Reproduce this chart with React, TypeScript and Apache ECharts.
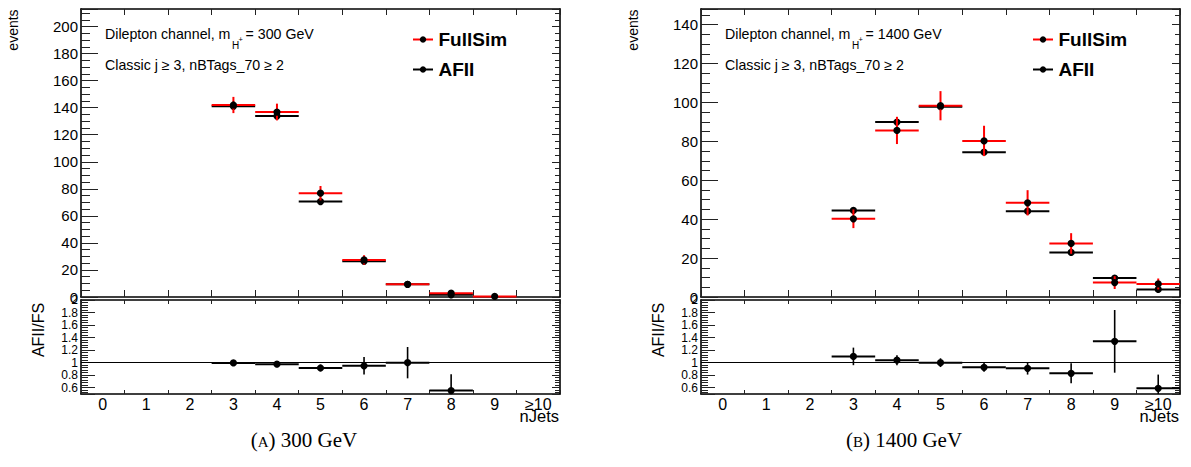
import React, { useEffect, useRef } from 'react';
import * as echarts from 'echarts';

// ---------- data ----------
const categories = ['0', '1', '2', '3', '4', '5', '6', '7', '8', '9', '≥10'];

// m_H+ = 300 GeV
const fullSim300 = [null, null, null, 142.0, 136.8, 76.8, 27.4, 9.4, 2.8, 0.4, null];
const fullSim300Err = [0, 0, 0, 6.0, 6.2, 5.3, 3.5, 2.0, 1.0, 0.5, 0];
const afii300 = [null, null, null, 141.0, 133.8, 70.6, 26.4, 9.4, 1.6, null, null];
const ratio300 = [null, null, null, 0.995, 0.975, 0.915, 0.95, 1.0, 0.555, null, null];
const ratio300Err = [0, 0, 0, 0.02, 0.02, 0.05, 0.14, 0.25, 0.26, 0, 0];

// m_H+ = 1400 GeV
const fullSim1400 = [null, null, null, 40.2, 85.6, 98.3, 80.2, 48.4, 27.5, 7.4, 6.7];
const fullSim1400Err = [0, 0, 0, 4.8, 7.0, 7.5, 7.8, 6.5, 5.3, 3.3, 2.8];
const afii1400 = [null, null, null, 44.5, 89.9, 97.8, 74.4, 44.1, 22.9, 9.7, 3.9];
const ratio1400 = [null, null, null, 1.10, 1.04, 1.0, 0.925, 0.91, 0.83, 1.34, 0.59];
const ratio1400Err = [0, 0, 0, 0.14, 0.08, 0.07, 0.07, 0.1, 0.16, 0.5, 0.22];

const yMax300 = 213;
const yMax1400 = 148;
const ratioMin = 0.5;
const ratioMax = 2.0;

// ---------- style ----------
const SANS = "'Liberation Sans', Arial, Helvetica, sans-serif";
const SERIF = "'Liberation Serif', 'Times New Roman', serif";

let measureCtx: CanvasRenderingContext2D | null = null;
function textWidth(text: string, size: number, family: string, weight = 'normal') {
  if (!measureCtx) measureCtx = document.createElement('canvas').getContext('2d');
  measureCtx!.font = `${weight} ${size}px ${family}`;
  return measureCtx!.measureText(text).width;
}

function makeRender(color: string, barColor: string, lw: number, elw: number, r: number) {
  return function (params: any, api: any) {
    const i = api.value(0);
    const v = api.value(1);
    const e = api.value(2);
    const cs = params.coordSys;
    const c = api.coord([i, v]);
    const w = api.size([1, 0])[0];
    const clampY = (y: number) => Math.max(cs.y, Math.min(cs.y + cs.height, y));
    const children: any[] = [];
    children.push({
      type: 'line',
      shape: { x1: c[0] - w / 2, y1: c[1], x2: c[0] + w / 2, y2: c[1] },
      style: { stroke: color, lineWidth: lw },
    });
    if (e > 0) {
      const lo = api.coord([i, v - e])[1];
      const hi = api.coord([i, v + e])[1];
      children.push({
        type: 'line',
        shape: { x1: c[0], y1: clampY(lo), x2: c[0], y2: clampY(hi) },
        style: { stroke: barColor, lineWidth: elw },
      });
    }
    children.push({ type: 'circle', shape: { cx: c[0], cy: c[1], r }, style: { fill: '#000' } });
    return { type: 'group', children };
  };
}

function toData(vals: (number | null)[], errs: number[] | null) {
  const out: number[][] = [];
  vals.forEach((v, i) => {
    if (v !== null) out.push([i, v, errs ? errs[i] : 0]);
  });
  return out;
}

const tickStyle = { color: '#222', width: 1 };
const frameLine = { show: true, onZero: false, lineStyle: { color: '#000', width: 1.6 } };

function xAxes(g: number, labels: boolean, botLen: number, topLen: number) {
  return [
    {
      gridIndex: g, type: 'category', data: categories, position: 'bottom', boundaryGap: true,
      axisLine: frameLine,
      axisTick: { show: true, inside: true, length: botLen, interval: 0, alignWithLabel: false, lineStyle: tickStyle },
      axisLabel: labels
        ? { show: true, interval: 0, color: '#000', fontSize: 16, fontFamily: SANS, margin: 2, hideOverlap: false }
        : { show: false },
      splitLine: { show: false },
    },
    {
      gridIndex: g, type: 'category', data: categories, position: 'top', boundaryGap: true,
      axisLine: frameLine,
      axisTick: { show: true, inside: true, length: topLen, interval: 0, alignWithLabel: false, lineStyle: tickStyle },
      axisLabel: { show: false },
      splitLine: { show: false },
    },
  ];
}

function yAxes(g: number, min: number, max: number, split: number, minorSplit: number,
  majLen: number, minLen: number, rMajLen: number, rMinLen: number, fontSize: number,
  formatter: (v: number) => string) {
  return [
    {
      gridIndex: g, type: 'value', position: 'left', min, max, splitNumber: split,
      axisLine: frameLine,
      axisTick: { show: true, inside: true, length: majLen, lineStyle: tickStyle },
      minorTick: { show: true, splitNumber: minorSplit, length: minLen, lineStyle: tickStyle },
      axisLabel: { show: true, color: '#000', fontSize, fontFamily: SANS, margin: 3, formatter, hideOverlap: false },
      splitLine: { show: false }, minorSplitLine: { show: false },
    },
    {
      gridIndex: g, type: 'value', position: 'right', min, max, splitNumber: split,
      axisLine: frameLine,
      axisTick: { show: true, inside: true, length: rMajLen, lineStyle: tickStyle },
      minorTick: { show: true, splitNumber: minorSplit, length: rMinLen, lineStyle: tickStyle },
      axisLabel: { show: false },
      splitLine: { show: false }, minorSplitLine: { show: false },
    },
  ];
}

function txt(x: number, y: number, text: string, size: number, o: any = {}) {
  return {
    type: 'text', x, y, rotation: o.rotation || 0, silent: true,
    style: {
      text, x: 0, y: 0, fill: o.fill || '#000',
      fontSize: size, fontFamily: o.family || SANS, fontWeight: o.weight || 'normal',
      align: o.align || 'left', verticalAlign: 'middle',
      textAlign: o.align || 'left', textVerticalAlign: 'middle',
    },
  };
}

function panelGraphics(dx: number, mass: string, letter: string, capCx: number) {
  const els: any[] = [];
  els.push(txt(13 + dx, 30, 'events', 14, { rotation: Math.PI / 2, align: 'center' }));
  els.push(txt(38.7 + dx, 330, 'AFII/FS', 16, { rotation: Math.PI / 2, align: 'center' }));

  // Dilepton channel, m_{H+} = X GeV
  const fs = 14.2;
  const x0 = 105 + dx;
  const s1 = 'Dilepton channel, m';
  const w1 = textWidth(s1, fs, SANS);
  const wH = textWidth('H', 10, SANS);
  const xH = x0 + w1 + 1.5;
  els.push(txt(x0, 33.5, s1, fs));
  els.push(txt(xH, 45, 'H', 10));
  els.push(txt(xH + wH - 0.5, 39.5, '+', 7.5));
  els.push(txt(xH + wH + 2.5, 33.5, ' = ' + mass + ' GeV', fs));
  els.push(txt(x0, 65, 'Classic j ≥ 3, nBTags_70 ≥ 2', fs));

  // legend
  const lx = 413 + dx;
  const items = [
    { name: 'FullSim', color: '#ff0000', y: 39.5 },
    { name: 'AFII', color: '#000000', y: 69.5 },
  ];
  items.forEach((it) => {
    els.push({ type: 'line', silent: true, shape: { x1: lx, y1: it.y, x2: lx + 20, y2: it.y }, style: { stroke: it.color, lineWidth: 2 } });
    els.push({ type: 'circle', silent: true, shape: { cx: lx + 10, cy: it.y, r: 3.2 }, style: { fill: '#000' } });
    els.push(txt(lx + 25.5, it.y, it.name, 19, { weight: 'bold' }));
  });

  // x axis title
  els.push(txt(559 + dx, 416, 'nJets', 16.5, { align: 'right' }));

  // caption
  const big = 21, small = 15;
  const rest = ') ' + mass + ' GeV';
  const wa = textWidth('(', big, SERIF);
  const wb = textWidth(letter, small, SERIF);
  const wc = textWidth(rest, big, SERIF);
  const start = capCx - (wa + wb + wc) / 2;
  const base = 447;
  els.push(txt(start, base - 0.34 * big, '(', big, { family: SERIF }));
  els.push(txt(start + wa, base - 0.34 * small, letter, small, { family: SERIF }));
  els.push(txt(start + wa + wb, base - 0.34 * big, rest, big, { family: SERIF }));
  return els;
}

function buildOption() {
  const panels = [
    { gx: 81, ymax: yMax300, split: 10, fs: fullSim300, fsErr: fullSim300Err, af: afii300, ratio: ratio300, ratioErr: ratio300Err, mass: '300', letter: 'A', capCx: 304 },
    { gx: 701, ymax: yMax1400, split: 7, fs: fullSim1400, fsErr: fullSim1400Err, af: afii1400, ratio: ratio1400, ratioErr: ratio1400Err, mass: '1400', letter: 'B', capCx: 904 },
  ];
  const grid: any[] = [];
  const xAxis: any[] = [];
  const yAxis: any[] = [];
  const series: any[] = [];
  let graphic: any[] = [];

  const topFmt = (v: number) => (Math.abs(v % 20) < 1e-6 ? String(v) : '');
  const ratioFmt = (v: number) => (Math.abs(v - ratioMin) < 1e-6 ? '' : String(Math.round(v * 10) / 10));

  panels.forEach((p, k) => {
    const gTop = 2 * k;
    const gRat = 2 * k + 1;
    grid.push({ left: p.gx, top: 9, width: 479, height: 288, containLabel: false, outerBoundsMode: 'none' });
    grid.push({ left: p.gx, top: 300, width: 479, height: 94, containLabel: false, outerBoundsMode: 'none' });
    xAxis.push(...xAxes(gTop, false, 7, 6));
    xAxis.push(...xAxes(gRat, true, 4, 4));
    yAxis.push(...yAxes(gTop, 0, p.ymax, p.split, 4, 17, 9, 8, 5, 15, (v) => (v > p.ymax - 5 ? '' : topFmt(v))));
    yAxis.push(...yAxes(gRat, ratioMin, ratioMax, 7, 5, 14, 7, 8, 5, 12, ratioFmt));

    series.push({
      type: 'custom', name: 'AFII', xAxisIndex: 2 * gTop, yAxisIndex: 2 * gTop,
      renderItem: makeRender('#000', '#000', 2, 2, 3.6), data: toData(p.af, null), z: 2,
    });
    series.push({
      type: 'custom', name: 'FullSim', xAxisIndex: 2 * gTop, yAxisIndex: 2 * gTop,
      renderItem: makeRender('#ff0000', '#ff0000', 2, 2, 3.6), data: toData(p.fs, p.fsErr), z: 3,
    });
    series.push({
      type: 'custom', name: 'AFII/FS', xAxisIndex: 2 * gRat, yAxisIndex: 2 * gRat,
      renderItem: makeRender('#000', '#000', 2, 1.6, 3.6), data: toData(p.ratio, p.ratioErr), z: 3,
      markLine: {
        silent: true, symbol: ['none', 'none'], data: [{ yAxis: 1 }],
        lineStyle: { color: '#000', width: 1, type: 'solid' }, label: { show: false },
      },
    });
    graphic = graphic.concat(panelGraphics(p.gx - 81, p.mass, p.letter, p.capCx));
  });

  return {
    animation: false,
    backgroundColor: '#fff',
    grid, xAxis, yAxis, series, graphic,
  };
}

export default function App() {
  const ref = useRef<HTMLDivElement>(null);
  useEffect(() => {
    const chart = echarts.init(ref.current!, null, { renderer: 'svg' });
    chart.setOption(buildOption() as any);
    return () => chart.dispose();
  }, []);
  return <div ref={ref} style={{ position: 'absolute', left: 0, top: 0, width: 1191, height: 467 }} />;
}
